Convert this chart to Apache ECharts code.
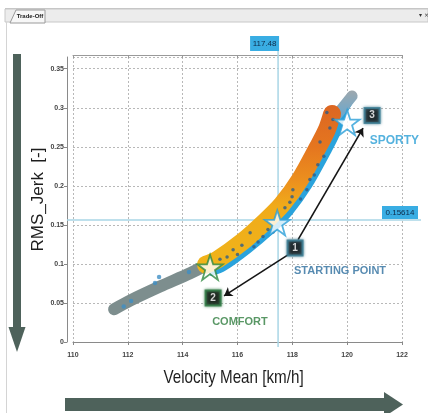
<!DOCTYPE html>
<html><head><meta charset="utf-8">
<script src="https://cdn.jsdelivr.net/npm/echarts/dist/echarts.min.js"></script>
<style>html,body{margin:0;padding:0;background:#fff}#c{width:428px;height:413px}</style>
</head><body><div id="c"></div>
<script>
// ---- data ----
const xTicks = [110, 112, 114, 116, 118, 120, 122];
const yTicks = [0, 0.05, 0.1, 0.15, 0.2, 0.25, 0.3, 0.35];
const yMax = 0.365;
// grey part of the point cloud (centre line)
const grayX = [111.50, 112.08, 113.17, 114.27, 114.95];
const grayY = [0.042, 0.053, 0.071, 0.088, 0.100];
// yellow/orange part of the cloud (centre line)
const warmX = [114.85, 115.29, 116.20, 117.00, 117.62, 118.28, 118.94, 119.26, 119.45];
const warmY = [0.099, 0.106, 0.129, 0.154, 0.176, 0.208, 0.250, 0.272, 0.292];
// blue lower edge of the cloud
const edgeX = [115.07, 115.51, 116.42, 117.28, 117.93, 118.61, 119.30, 119.63, 119.81, 120.10];
const edgeY = [0.0884, 0.0948, 0.1178, 0.1434, 0.1665, 0.1998, 0.2433, 0.2664, 0.2882, 0.3074];
// grey-blue tip of the cloud
const capX = [119.58, 120.18];
const capY = [0.289, 0.315];
// light blue dots in the grey part
const lightDotX = [112.12, 112.99, 113.14, 114.23, 111.85];
const lightDotY = [0.0526, 0.0756, 0.0833, 0.0897, 0.0455];
// dark blue dots in the warm part
const dotX = [115.36, 115.62, 115.84, 116.16, 116.46, 116.75, 116.93, 117.11, 117.73, 117.91, 118.02, 117.99, 118.53, 118.64, 118.93, 119.01, 119.37, 119.26, 119.48, 116.0, 116.6, 117.3, 118.3, 118.8, 119.15];
const dotY = [0.106, 0.109, 0.118, 0.124, 0.140, 0.128, 0.135, 0.144, 0.172, 0.179, 0.195, 0.186, 0.195, 0.208, 0.227, 0.256, 0.274, 0.294, 0.285, 0.112, 0.122, 0.141, 0.183, 0.214, 0.238];
// crosshair
const crossX = 117.48;
const crossY = 0.15614;
// stars
const starX = [115.0, 117.45, 120.0];
const starY = [0.0955, 0.1526, 0.281];
const starStroke = ['#2e8a40', '#2b9fd8', '#2b9fd8'];
// numbered boxes
const boxX = [118.10, 115.11, 120.91];
const boxY = [0.1205, 0.0564, 0.290];
const boxText = ['1', '2', '3'];
const boxBorder = ['#3b7c92', '#2f7a45', '#3b7c92'];
// arrows from box 1
const arrowFromX = [117.84, 118.21];
const arrowFromY = [0.1115, 0.131];
const arrowToX = [115.51, 120.58];
const arrowToY = [0.059, 0.274];
// annotation texts
const noteX = [119.74, 116.09, 121.72];
const noteY = [0.091, 0.0256, 0.258];
const noteText = ['STARTING POINT', 'COMFORT', 'SPORTY'];
const noteColor = ['#2d6e9e', '#2f7d3f', '#2b9fd6'];
const xTitle = 'Velocity Mean [km/h]';
const yTitle = 'RMS_Jerk  [-]';

const pair = (xs, ys) => xs.map((x, i) => [x, ys[i]]);
const starPath = 'path://M50,2 L61.5,36 L97,36 L68.5,57 L79.5,92 L50,71 L20.5,92 L31.5,57 L3,36 L38.5,36 Z';

const chart = echarts.init(document.getElementById('c'));
const tickFont = {fontSize: 7, fontFamily: 'Liberation Sans', color: '#444', fontWeight: 'bold'};

const option = {
  animation: false,
  backgroundColor: '#fff',
  grid: {left: 73, right: 26, top: 57, bottom: 71},
  xAxis: [{
    type: 'value', min: xTicks[0], max: xTicks[xTicks.length - 1], interval: xTicks[1] - xTicks[0], offset: 5,
    axisLine: {show: true, lineStyle: {color: '#8a8a8a'}},
    axisTick: {show: true, length: 3, lineStyle: {color: '#888'}},
    axisLabel: Object.assign({margin: 5}, tickFont),
    splitLine: {show: true, lineStyle: {color: '#b8b8b8', type: [2, 2]}}
  }, {
    type: 'value', position: 'top', min: xTicks[0], max: xTicks[xTicks.length - 1], interval: xTicks[1] - xTicks[0], offset: 2,
    axisLine: {show: true, lineStyle: {color: '#9a9a9a'}},
    axisTick: {show: true, inside: true, length: 3, lineStyle: {color: '#999'}},
    axisLabel: {show: false}, splitLine: {show: false}
  }],
  yAxis: {
    type: 'value', min: yTicks[0], max: yMax, interval: yTicks[1] - yTicks[0], offset: 6,
    axisLine: {show: true, lineStyle: {color: '#8a8a8a'}},
    axisTick: {show: true, length: 3, lineStyle: {color: '#888'}},
    axisLabel: Object.assign({margin: 3, showMaxLabel: false}, tickFont),
    splitLine: {show: true, lineStyle: {color: '#b8b8b8', type: [2, 2]}},
    name: yTitle, nameLocation: 'middle', nameGap: 20, nameRotate: 90, nameMoveOverlap: false,
    nameTextStyle: {fontSize: 17, fontFamily: 'Liberation Sans, Arial', color: '#1e1e1e'}
  },
  series: [
    {type: 'line', data: pair(edgeX, edgeY), smooth: 0.3, symbol: 'none', z: 3,
     lineStyle: {color: '#2aa3dc', width: 6, cap: 'round', join: 'round'}},
    {type: 'line', data: pair(grayX, grayY), smooth: 0.3, symbol: 'none', z: 4,
     lineStyle: {color: '#7d8e8e', width: 12, cap: 'round', join: 'round'}},
    {type: 'line', data: pair(capX, capY), symbol: 'none', z: 4,
     lineStyle: {color: new echarts.graphic.LinearGradient(0, 1, 0, 0, [
       {offset: 0, color: '#5fa8d4'}, {offset: 1, color: '#9ea8ae'}]), width: 11, cap: 'round'}},
    {type: 'line', data: pair(warmX, warmY), smooth: 0.3, symbol: 'none', z: 5,
     lineStyle: {width: 18, cap: 'round', join: 'round',
       color: new echarts.graphic.LinearGradient(0, 1, 0, 0, [
         {offset: 0, color: '#f0b51a'}, {offset: 0.4, color: '#f0ab1a'},
         {offset: 0.55, color: '#ec901e'}, {offset: 0.75, color: '#e5761f'},
         {offset: 1, color: '#dc6622'}])}},
    {type: 'scatter', data: pair(lightDotX, lightDotY), symbolSize: 4.5, z: 6,
     itemStyle: {color: '#3f8ec4'}},
    {type: 'scatter', data: pair(dotX, dotY), symbolSize: 3.5, z: 6,
     itemStyle: {color: '#2d5d8a'}},
    {type: 'scatter', z: 7, symbol: starPath, symbolSize: 25,
     data: starX.map((x, i) => ({value: [x, starY[i]],
       itemStyle: {color: '#ffffff', borderColor: starStroke[i], borderWidth: 1.8}}))},
    {type: 'lines', coordinateSystem: 'cartesian2d', z: 8, symbol: ['none', 'arrow'], symbolSize: 8,
     lineStyle: {color: '#151515', width: 1.6, opacity: 1},
     data: arrowFromX.map((x, i) => ({coords: [[x, arrowFromY[i]], [arrowToX[i], arrowToY[i]]]}))},
    {type: 'scatter', z: 9, symbol: 'rect', symbolSize: 15,
     data: boxX.map((x, i) => ({value: [x, boxY[i]], name: boxText[i],
       itemStyle: {color: '#121212', borderColor: boxBorder[i], borderWidth: 2, shadowBlur: 3, shadowColor: boxBorder[i]}})),
     label: {show: true, position: 'inside', formatter: p => p.name, color: '#fff', fontSize: 10, fontWeight: 'bold', fontFamily: 'Liberation Sans'}},
    {type: 'scatter', z: 9, symbolSize: 1,
     data: noteX.map((x, i) => ({value: [x, noteY[i]], name: noteText[i],
       label: {color: noteColor[i], fontSize: i === 2 ? 12 : 11}})),
     itemStyle: {color: 'transparent'},
     label: {show: true, position: 'inside', formatter: p => p.name, fontWeight: 'bold', fontFamily: 'Liberation Sans, Arial'}}
  ]
};
chart.setOption(option);

// crosshair, its value boxes and the x title, placed through the chart's own scales
const pc = chart.convertToPixel({gridIndex: 0}, [crossX, crossY]);
const pMin = chart.convertToPixel({gridIndex: 0}, [xTicks[0], yTicks[0]]);
const pMax = chart.convertToPixel({gridIndex: 0}, [xTicks[xTicks.length - 1], yMax]);
const arrowCol = '#4e625b';
chart.setOption({
  graphic: [
    // panel frame and tab bar
    {type: 'line', shape: {x1: 5, y1: 8.5, x2: 428, y2: 8.5}, style: {stroke: '#c4c4c4', lineWidth: 1}, silent: true},
    {type: 'rect', shape: {x: 5, y: 9, width: 423, height: 13}, style: {fill: '#ececec', stroke: '#c8c8c8', lineWidth: 1}, silent: true},
    {type: 'polygon', shape: {points: [[10, 23], [16, 10], [45, 10], [45, 23]]}, style: {fill: '#f7f7f7', stroke: '#9a9a9a', lineWidth: 1}, silent: true},
    {type: 'text', style: {text: 'Trade-Off', x: 30, y: 16.5, fill: '#222', font: 'bold 6px Liberation Sans', textAlign: 'center', textVerticalAlign: 'middle'}, silent: true},
    {type: 'text', style: {text: '▾ ×', x: 419, y: 15.5, fill: '#333', font: '6px DejaVu Sans', textAlign: 'left', textVerticalAlign: 'middle'}, silent: true},
    {type: 'line', shape: {x1: 6.5, y1: 22, x2: 6.5, y2: 413}, style: {stroke: '#d4d4d4', lineWidth: 1}, silent: true},
    // big arrows
    {type: 'rect', shape: {x: 13, y: 54, width: 8, height: 274}, style: {fill: arrowCol}, silent: true},
    {type: 'polygon', shape: {points: [[8.5, 327], [25.5, 327], [17, 352]]}, style: {fill: arrowCol}, silent: true},
    {type: 'rect', shape: {x: 65, y: 398, width: 320, height: 13}, style: {fill: arrowCol}, silent: true},
    {type: 'polygon', shape: {points: [[384, 392], [384, 417], [403, 404.5]]}, style: {fill: arrowCol}, silent: true},
    // x axis title (condensed like the original)
    {type: 'text', x: (pMin[0] + pMax[0]) / 2 - 4, y: pMin[1] + 36, scaleX: 0.8, silent: true,
     style: {text: xTitle, x: 0, y: 0, fill: '#1e1e1e', font: '19px Liberation Sans', textAlign: 'center', textVerticalAlign: 'middle'}},
    // crosshair lines
    {type: 'line', z: 1, shape: {x1: pc[0], y1: 51, x2: pc[0], y2: pMin[1] + 5}, style: {stroke: '#a9d6e6', lineWidth: 1.5}, silent: true},
    {type: 'line', z: 1, shape: {x1: pMin[0] - 6, y1: pc[1], x2: 421, y2: pc[1]}, style: {stroke: '#a9d6e6', lineWidth: 1.5}, silent: true},
    // crosshair value boxes
    {type: 'rect', z: 10, shape: {x: pc[0] - 28, y: 36, width: 29, height: 15}, style: {fill: '#39ade3'}, silent: true},
    {type: 'text', z: 11, style: {text: String(crossX), x: pc[0] - 13.5, y: 43.5, fill: '#0e2a48', font: '8px Liberation Sans', textAlign: 'center', textVerticalAlign: 'middle'}, silent: true},
    {type: 'rect', z: 10, shape: {x: pMax[0] - 20, y: pc[1] - 14, width: 36, height: 13}, style: {fill: '#39ade3'}, silent: true},
    {type: 'text', z: 11, style: {text: String(crossY), x: pMax[0] - 2, y: pc[1] - 7.5, fill: '#0e2a48', font: '8px Liberation Sans', textAlign: 'center', textVerticalAlign: 'middle'}, silent: true}
  ]
});
</script></body></html>
